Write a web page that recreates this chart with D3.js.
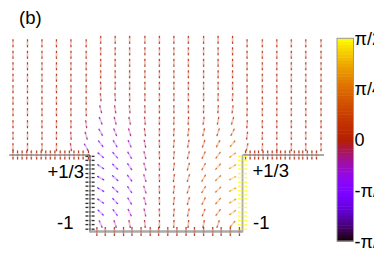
<!DOCTYPE html>
<html>
<head>
<meta charset="utf-8">
<script src="https://cdn.jsdelivr.net/npm/d3@7"></script>
<style>
  body { margin: 0; background: #fff; }
  svg { display: block; font-family: "Liberation Sans", Arial, sans-serif; }
</style>
</head>
<body>
<svg id="chart" width="374" height="280"></svg>
<script>
// model coords: channel walls at x = -1 / +1, channel floor y = -1, rim y = +1/3
const outerLeftX  = [-2.01, -1.82, -1.63, -1.44, -1.25, -1.05];
const outerRightX = [1.06, 1.26, 1.45, 1.64, 1.83, 2.03];
const innerX = [-0.86, -0.67, -0.48, -0.28, -0.09, 0.10, 0.29, 0.49, 0.68, 0.87];
const outerY = [2.28, 2.08, 1.88, 1.68, 1.48, 1.28, 1.08, 0.87, 0.67, 0.47];
const innerY = [2.34, 2.14, 1.94, 1.74, 1.54, 1.34, 1.13, 0.93, 0.73, 0.53, 0.33, 0.13, -0.07, -0.27, -0.47, -0.67, -0.87];

// director angle / pi (0 = vertical, + leans "\", - leans "/")
const outerLeftAngle = [
  [0, 0, 0, 0, 0, 0],
  [0, 0, 0, 0, 0, 0],
  [0, 0, 0, 0, 0, 0],
  [0, 0, 0, 0, 0, 0],
  [0, 0, 0, 0, 0, 0],
  [0, 0, 0, 0, 0, 0],
  [0, 0, 0, 0, 0, -0.01],
  [0, 0, 0, 0, 0, -0.04],
  [0, 0, 0, 0, -0.02, -0.09],
  [0, 0, 0, 0, -0.04, -0.16]
];
const outerRightAngle = [
  [0, 0, 0, 0, 0, 0],
  [0, 0, 0, 0, 0, 0],
  [0, 0, 0, 0, 0, 0],
  [0, 0, 0, 0, 0, 0],
  [0, 0, 0, 0, 0, 0],
  [0, 0, 0, 0, 0, 0],
  [0.01, 0, 0, 0, 0, 0],
  [0.02, 0, 0, 0, 0, 0],
  [0.04, 0.01, 0, 0, 0, 0],
  [0.07, 0.02, 0, 0, 0, 0]
];
const innerAngle = [
  [0, 0, 0, 0, 0, 0, 0, 0, 0, 0],
  [0, 0, 0, 0, 0, 0, 0, 0, 0, 0],
  [0, 0, 0, 0, 0, 0, 0, 0, 0, 0],
  [0, 0, 0, 0, 0, 0, 0, 0, 0, 0],
  [-0.01, 0, 0, 0, 0, 0, 0, 0, 0, 0.01],
  [-0.03, -0.02, -0.01, 0, 0, 0, 0, 0, 0.01, 0.02],
  [-0.08, -0.05, -0.03, -0.01, 0, 0, 0, 0.01, 0.02, 0.04],
  [-0.12, -0.08, -0.06, -0.03, 0, 0.01, 0.02, 0.04, 0.06, 0.09],
  [-0.16, -0.12, -0.09, -0.04, 0, 0.02, 0.04, 0.07, 0.10, 0.15],
  [-0.21, -0.17, -0.13, -0.06, -0.01, 0.03, 0.06, 0.10, 0.15, 0.22],
  [-0.27, -0.22, -0.17, -0.08, -0.01, 0.03, 0.08, 0.14, 0.20, 0.30],
  [-0.31, -0.25, -0.19, -0.09, -0.01, 0.04, 0.09, 0.16, 0.23, 0.33],
  [-0.34, -0.27, -0.20, -0.10, -0.01, 0.04, 0.10, 0.17, 0.25, 0.35],
  [-0.33, -0.26, -0.19, -0.10, -0.01, 0.04, 0.10, 0.17, 0.25, 0.35],
  [-0.30, -0.24, -0.17, -0.09, -0.01, 0.04, 0.09, 0.15, 0.23, 0.33],
  [-0.26, -0.20, -0.14, -0.07, -0.01, 0.03, 0.07, 0.12, 0.20, 0.30],
  [-0.13, -0.10, -0.06, -0.03, 0, 0.01, 0.03, 0.06, 0.10, 0.22]
];

// anchoring directions on the boundaries
const topLeftMarksX  = [-2.01, -1.95, -1.89, -1.83, -1.77, -1.70, -1.64, -1.58, -1.52, -1.46, -1.39, -1.33, -1.27, -1.21, -1.15, -1.09, -1.02];
const topRightMarksX = [1.04, 1.10, 1.16, 1.21, 1.27, 1.33, 1.39, 1.45, 1.50, 1.56, 1.62, 1.68, 1.74, 1.79, 1.85, 1.91, 1.97];
const wallMarksY = [0.31, 0.24, 0.16, 0.09, 0.01, -0.06, -0.14, -0.21, -0.29, -0.36, -0.43, -0.51, -0.58, -0.66, -0.73, -0.81, -0.88, -0.96];
const bottomMarksX = [-0.91, -0.80, -0.68, -0.56, -0.45, -0.33, -0.21, -0.10, 0.02, 0.14, 0.26, 0.37, 0.49, 0.61, 0.72, 0.84, 0.96];
const topAnchor = 0, leftAnchor = -0.5, rightAnchor = 0.5, bottomAnchor = 0;

const cbTicks = [0.5, 0.25, 0, -0.25, -0.5];
const cbLabels = ["π/2", "π/4", "0", "-π/4", "-π/2"];

const svg = d3.select("#chart");

const x = d3.scaleLinear().domain([-1, 1]).range([90, 242.5]);
const y = d3.scaleLinear().domain([-1, 1 / 3]).range([231.5, 155]);

// gnuplot default palette (rgbformulae 7,5,15)
const palette = t => d3.rgb(
  255 * Math.sqrt(t),
  255 * Math.pow(t, 3),
  255 * Math.max(0, Math.sin(2 * Math.PI * t))
).toString();
const color = d3.scaleSequential(palette).domain([-0.5, 0.5]);

const field = [];
outerY.forEach((yy, r) => {
  outerLeftX.forEach((xx, c) => field.push({ x: xx, y: yy, a: outerLeftAngle[r][c] }));
  outerRightX.forEach((xx, c) => field.push({ x: xx, y: yy, a: outerRightAngle[r][c] }));
});
innerY.forEach((yy, r) => {
  innerX.forEach((xx, c) => field.push({ x: xx, y: yy, a: innerAngle[r][c] }));
});

const marks = [
  ...topLeftMarksX.map(v => ({ x: v, y: 1 / 3, a: topAnchor })),
  ...topRightMarksX.map(v => ({ x: v, y: 1 / 3, a: topAnchor })),
  ...wallMarksY.map(v => ({ x: -1, y: v, a: leftAnchor })),
  ...wallMarksY.map(v => ({ x: 1, y: v, a: rightAnchor })),
  ...bottomMarksX.map(v => ({ x: v, y: -1, a: bottomAnchor }))
];

// walls
const walls = svg.append("g").attr("class", "walls");
walls.append("line")
  .attr("x1", x(-2.06)).attr("x2", x(-1)).attr("y1", y(1 / 3)).attr("y2", y(1 / 3))
  .attr("stroke", "#555").attr("stroke-width", 1.1);
walls.append("line")
  .attr("x1", x(1)).attr("x2", x(2.07)).attr("y1", y(1 / 3)).attr("y2", y(1 / 3))
  .attr("stroke", "#555").attr("stroke-width", 1.1);
walls.append("line")
  .attr("x1", x(-1)).attr("x2", x(-1)).attr("y1", y(1 / 3)).attr("y2", y(-1) + 1)
  .attr("stroke", "#555").attr("stroke-width", 1.1);
walls.append("line")
  .attr("x1", x(-1)).attr("x2", x(1)).attr("y1", y(-1)).attr("y2", y(-1))
  .attr("stroke", "#aaa").attr("stroke-width", 2.6);
walls.append("line")
  .attr("x1", x(1)).attr("x2", x(1)).attr("y1", y(1 / 3)).attr("y2", y(-1) + 1)
  .attr("stroke", "#aaa").attr("stroke-width", 1.8);

// a director: pale body with darker tips
const drawDash = (sel, len) => {
  const g = sel.append("g")
    .attr("transform", d => `translate(${x(d.x)},${y(d.y)}) rotate(${d.a * 180})`);
  g.append("line")
    .attr("x1", 0).attr("x2", 0).attr("y1", -len / 2).attr("y2", len / 2)
    .attr("stroke", d => color(d.a)).attr("stroke-width", 1.8).attr("stroke-opacity", 0.25);
  g.append("line")
    .attr("x1", 0).attr("x2", 0).attr("y1", -len / 2).attr("y2", -len / 2 + len * 0.28)
    .attr("stroke", d => color(d.a)).attr("stroke-width", 1).attr("stroke-opacity", 0.85);
  g.append("line")
    .attr("x1", 0).attr("x2", 0).attr("y1", len / 2 - len * 0.28).attr("y2", len / 2)
    .attr("stroke", d => color(d.a)).attr("stroke-width", 1).attr("stroke-opacity", 0.85);
};

svg.append("g").attr("class", "field")
  .selectAll("g").data(field).join(enter => enter.append("g").call(s => drawDash(s, 8)));

svg.append("g").attr("class", "marks")
  .selectAll("g").data(marks).join(enter => enter.append("g").call(s => drawDash(s, 9)));

// labels
const lab = svg.append("g").attr("font-size", 18.5).attr("fill", "#000");
lab.append("text").attr("x", 19).attr("y", 23.5).text("(b)");
lab.append("text").attr("x", x(-1) - 6).attr("y", y(1 / 3) + 22.5).attr("text-anchor", "end").text("+1/3");
lab.append("text").attr("x", x(-1) - 16.5).attr("y", y(-1) - 2.5).attr("text-anchor", "end").text("-1");
lab.append("text").attr("x", x(1) + 10).attr("y", y(1 / 3) + 22).text("+1/3");
lab.append("text").attr("x", x(1) + 10.5).attr("y", y(-1) - 2.5).text("-1");

// colour bar
const cb = d3.scaleLinear().domain([-0.5, 0.5]).range([241, 38.3]);
const steps = d3.range(-0.5, 0.5, 1 / 64);
const cbG = svg.append("g").attr("class", "colorbar");
cbG.selectAll("rect.step").data(steps).join("rect")
  .attr("class", "step")
  .attr("x", 337).attr("width", 16.5)
  .attr("y", d => cb(d + 1 / 64))
  .attr("height", d => cb(d) - cb(d + 1 / 64) + 0.5)
  .attr("fill", d => color(d + 1 / 128));
cbG.append("rect")
  .attr("x", 337).attr("y", cb(0.5)).attr("width", 16.5).attr("height", cb(-0.5) - cb(0.5))
  .attr("fill", "none").attr("stroke", "#999").attr("stroke-width", 1);
cbG.selectAll("text").data(cbTicks).join("text")
  .attr("x", 354.5).attr("y", d => cb(d) + 6.5)
  .attr("font-size", 18).attr("fill", "#000")
  .text((d, i) => cbLabels[i]);
</script>
</body>
</html>
